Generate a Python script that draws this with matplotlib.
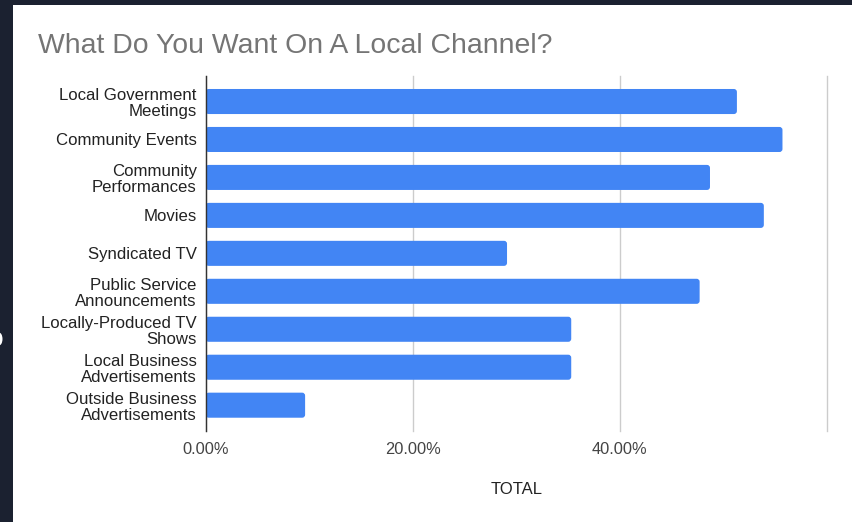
import matplotlib
matplotlib.use("Agg")
import matplotlib.pyplot as plt
from matplotlib.patches import Rectangle, FancyBboxPatch, Ellipse

plt.rcParams["font.family"] = ["Liberation Sans", "DejaVu Sans"]

categories = [
    "Local Government\nMeetings",
    "Community Events",
    "Community\nPerformances",
    "Movies",
    "Syndicated TV",
    "Public Service\nAnnouncements",
    "Locally-Produced TV\nShows",
    "Local Business\nAdvertisements",
    "Outside Business\nAdvertisements",
]
totals = [51.3, 55.7, 48.7, 53.9, 29.1, 47.7, 35.3, 35.3, 9.6]
tick_values = [0, 20, 40, 60]
tick_labels = ["0.00%", "20.00%", "40.00%", ""]

W, H = 852, 522
BLUE = "#4285f4"
BORDER = "#1b2130"

fig = plt.figure(figsize=(W / 100, H / 100), dpi=100, facecolor=BORDER)

# white card inside the dark page frame
fig.add_artist(Rectangle((13 / W, 0), 1, (H - 5) / H, transform=fig.transFigure,
                         facecolor="white", edgecolor="none", zorder=0))
fig.add_artist(Ellipse((-1 / W, 1 - 339 / H), 7 / W, 13 / H,
                       transform=fig.transFigure, facecolor="white",
                       edgecolor="none", zorder=1))

ax_left, ax_right, ax_top, ax_bottom = 205.7, 827, 75.7, 431
ax = fig.add_axes([ax_left / W, 1 - ax_bottom / H,
                   (ax_right - ax_left) / W, (ax_bottom - ax_top) / H])
ax.set_facecolor("none")

positions = list(range(len(categories)))
bars = ax.barh(positions, totals, height=0.66, color=BLUE, zorder=3)

ax.set_xlim(0, 60)
ax.set_ylim(len(categories) - 1 + 0.68, -0.68)

# swap the square bars for slightly rounded ones
x_per_px = 60 / (ax_right - ax_left)
y_per_px = (len(categories) - 1 + 1.36) / (ax_bottom - ax_top)
for rect in bars:
    rounded = FancyBboxPatch(
        rect.get_xy(), rect.get_width(), rect.get_height(),
        boxstyle=f"round,pad=0,rounding_size={3 * x_per_px}",
        mutation_aspect=y_per_px / x_per_px,
        facecolor=BLUE, edgecolor="none", zorder=3,
    )
    ax.add_patch(rounded)
    rect.set_visible(False)

ax.set_xticks(tick_values)
ax.set_xticklabels(tick_labels, fontsize=11.8, color="#444444")
ax.set_yticks(positions)
ax.set_yticklabels(categories, fontsize=12.1, color="#222222", linespacing=1.12)
ax.tick_params(axis="x", length=0, pad=8)
ax.tick_params(axis="y", length=0, pad=6.5)

ax.grid(axis="x", color="#cccccc", linewidth=1.0, zorder=0)
ax.grid(axis="y", visible=False)
for line in ax.get_xgridlines():
    line.set_clip_on(False)
for side in ("top", "right", "bottom"):
    ax.spines[side].set_visible(False)
ax.spines["left"].set_color("#333333")
ax.spines["left"].set_linewidth(1.0)
ax.spines["left"].set_zorder(4)

fig.text(38 / W, 1 - 53 / H, "What Do You Want On A Local Channel?",
         fontsize=20.4, color="#757575", ha="left", va="baseline")
fig.text((ax_left + ax_right) / 2 / W, 1 - 490 / H, "TOTAL",
         fontsize=12, color="#222222", ha="center", va="center")

fig.savefig("out.png", dpi=100, facecolor=fig.get_facecolor())
